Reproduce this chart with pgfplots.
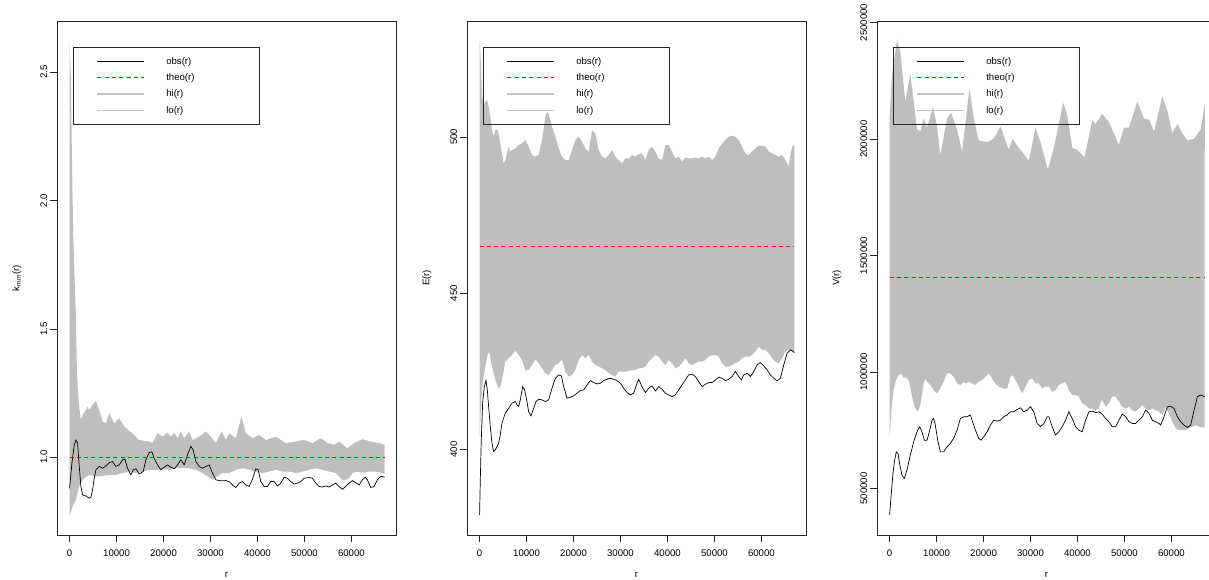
\documentclass[border=0pt]{standalone}
\usepackage{fontspec}
\setmainfont{Liberation Sans}
\usepackage{pgfplots}
\pgfplotsset{compat=1.18}
\usepgfplotslibrary{fillbetween}
\definecolor{envgrey}{RGB}{190,190,190}
\definecolor{legline}{RGB}{195,195,195}
\definecolor{rred}{RGB}{255,0,0}
\pgfplotsset{
  rpanel/.style={
    scale only axis, width=339pt, height=514pt,
    anchor=south west,
    xmin=-2680, xmax=69500,
    xtick={0,10000,20000,30000,40000,50000,60000},
    xticklabels={0,10000,20000,30000,40000,50000,60000},
    scaled ticks=false,
    tick align=outside, xtick pos=bottom, ytick pos=left,
    major tick length=7pt,
    tick style={black!85, line width=0.6pt},
    axis line style={black!85, line width=0.7pt},
    font=\fontsize{9.6}{11}\selectfont,
    /pgf/number format/assume math mode=true,
    yticklabel style={rotate=90, anchor=south, inner sep=0pt},
    xticklabel style={anchor=north, inner sep=0pt},
    yticklabel shift=2.5pt,
    xticklabel shift=8pt,
    every axis y label/.style={at={(axis description cs:-0.118,0.5)}, rotate=90, anchor=center},
    every axis x label/.style={at={(axis description cs:0.5,-0.0778)}, anchor=center},
    xlabel={r},
    legend style={at={(0,1)}, anchor=north west, xshift=16pt, yshift=-26pt,
      draw=black!85, line width=0.6pt, fill=none,
      inner xsep=0pt, inner ysep=6pt, row sep=0pt,
      nodes={inner sep=0pt, minimum height=16.3pt}},
    legend image code/.code={\path[draw=none, fill=none] (0pt,0pt) -- (93pt,0pt); \draw[##1] (24pt,0pt) -- (71pt,0pt);},
    legend cell align=left,
  },
  obsst/.style={color=black, draw=black, line width=0.7pt},
  theost/.style={color=rred, draw=rred, line width=0.9pt, dash pattern=on 4pt off 3.3pt},
  hist/.style={color=legline, draw=legline, line width=1.1pt},
  lost/.style={color=legline, draw=legline, line width=0.8pt},
}
\newcommand{\leg}[1]{\makebox[93pt][l]{#1}}
\begin{document}
\begin{tikzpicture}
% ---------------- Panel 1 ----------------
\begin{axis}[rpanel, at={(57pt,45pt)}, ymin=0.697, ymax=2.699,
  ytick={1.0,1.5,2.0,2.5}, yticklabels={1.0,1.5,2.0,2.5},
  ylabel={k\textsubscript{mm}(r)}]
\addplot[name path=hiA, draw=none, forget plot] coordinates {
(0,2.62) (280,2.47) (490,2.18) (770,1.87) (1060,1.70) (1340,1.56) (1550,1.34) (1770,1.26) (2040,1.196) (2412,1.145) (2766,1.165) (3476,1.184) (3831,1.197) (4185,1.184) (4894,1.204) (5603,1.219) (6313,1.184) (7022,1.139) (7731,1.132) (8441,1.171) (9505,1.132) (10569,1.152) (11632,1.119) (13406,1.093) (14824,1.067) (16952,1.061) (17662,1.055) (18726,1.093) (19790,1.080) (20853,1.096) (21563,1.080) (22272,1.096) (22981,1.074) (23691,1.100) (24400,1.074) (25464,1.100) (26173,1.067) (27592,1.080) (29010,1.100) (30074,1.080) (31138,1.055) (32344,1.100) (33266,1.067) (33975,1.093) (35394,1.074) (36600,1.158) (37522,1.093) (38941,1.074) (40359,1.087) (41778,1.067) (43906,1.080) (46034,1.055) (48162,1.061) (49935,1.067) (51708,1.055) (53481,1.074) (54900,1.055) (56318,1.048) (57382,1.061) (59156,1.035) (60575,1.055) (62347,1.070) (64121,1.061) (65894,1.055) (67100,1.048)};
\addplot[name path=loA, draw=none, forget plot] coordinates {
(0,0.769) (638,0.808) (1348,0.834) (2057,0.886) (2766,0.912) (3476,0.922) (4185,0.931) (5603,0.925) (7022,0.927) (8441,0.931) (9859,0.931) (11278,0.938) (12697,0.944) (14115,0.938) (15534,0.944) (16952,0.951) (18371,0.951) (19790,0.953) (21208,0.951) (22627,0.957) (24045,0.957) (25464,0.957) (26882,0.951) (28301,0.938) (29720,0.922) (30429,0.912) (31138,0.922) (32557,0.938) (33975,0.938) (35394,0.951) (36813,0.957) (38231,0.951) (39650,0.944) (41068,0.938) (42487,0.944) (43906,0.951) (45325,0.944) (46743,0.944) (48162,0.938) (49580,0.944) (50999,0.951) (52417,0.957) (53835,0.951) (55254,0.944) (56673,0.938) (58092,0.912) (58801,0.912) (59510,0.918) (60220,0.938) (60929,0.944) (62347,0.940) (63766,0.944) (65185,0.944) (67100,0.935)};
\addplot[envgrey, draw=none, forget plot] fill between[of=hiA and loA];
\addplot[obsst] coordinates {
(0,0.879) (497,0.977) (993,1.048) (1348,1.067) (1702,1.055) (2057,0.964) (2412,0.886) (2766,0.853) (3476,0.849) (4185,0.840) (4540,0.844) (4894,0.873) (5249,0.918) (5603,0.951) (6313,0.964) (7022,0.957) (7731,0.966) (8441,0.979) (9150,0.983) (9859,0.964) (10569,0.970) (11278,0.990) (11774,0.992) (12342,0.957) (13051,0.931) (13548,0.951) (14115,0.955) (14824,0.935) (15676,0.944) (16243,0.990) (16952,1.018) (17520,1.021) (18016,0.996) (18726,0.970) (19435,0.951) (20144,0.961) (20853,0.970) (21563,0.961) (22272,0.955) (22981,0.970) (23691,0.990) (24400,0.970) (25109,1.009) (25819,1.042) (26315,1.029) (26882,0.983) (27592,0.964) (28301,0.957) (29010,0.964) (29720,0.970) (30429,0.938) (31138,0.912) (31848,0.909) (32557,0.908) (33266,0.909) (33975,0.905) (34685,0.892) (35394,0.882) (36103,0.899) (36813,0.905) (37522,0.892) (38231,0.886) (38941,0.914) (39650,0.955) (40146,0.951) (40714,0.905) (41423,0.886) (42132,0.886) (42842,0.905) (43551,0.905) (44260,0.888) (44970,0.899) (45679,0.922) (46388,0.918) (47098,0.905) (47807,0.895) (48516,0.899) (49225,0.905) (49935,0.918) (50999,0.921) (51708,0.918) (52417,0.899) (53127,0.886) (53835,0.884) (54545,0.888) (55254,0.884) (55964,0.892) (56673,0.899) (57382,0.886) (58092,0.875) (58801,0.886) (59510,0.899) (60220,0.909) (60929,0.901) (61638,0.892) (62347,0.912) (62915,0.922) (63411,0.912) (64121,0.882) (64830,0.886) (65539,0.912) (66249,0.925) (67100,0.922)};
\addlegendentry{\leg{obs(r)}}
\addplot[theost] coordinates {(0,1) (67100,1)};
\addlegendentry{\leg{theo(r)}}
\addlegendimage{hist}
\addlegendentry{\leg{hi(r)}}
\addlegendimage{lost}
\addlegendentry{\leg{lo(r)}}
\end{axis}
% ---------------- Panel 2 ----------------
\begin{axis}[rpanel, at={(467pt,45pt)}, ymin=372.6, ymax=537.1,
  ytick={400,450,500}, yticklabels={400,450,500},
  ylabel={E(r)}]
\addplot[name path=hiB, draw=none, forget plot] coordinates {
(0,531.0) (291,523.5) (504,513.9) (859,509.7) (1214,511.3) (1569,511.8) (1924,509.7) (2279,506.5) (2634,502.2) (2989,500.1) (3344,502.2) (3699,502.5) (4054,501.1) (4764,494.7) (5119,491.5) (5474,492.6) (5829,494.7) (6184,496.9) (6539,495.3) (6894,495.8) (7604,496.3) (8314,497.4) (9024,497.9) (9734,499.0) (10444,496.9) (11154,494.2) (11864,493.7) (12574,494.2) (13284,499.0) (13994,506.5) (14349,508.1) (14704,507.5) (15414,503.3) (16124,500.1) (16834,496.3) (17544,493.7) (18254,492.6) (18964,492.6) (19674,495.8) (20384,499.0) (21094,500.1) (21804,498.5) (22514,496.3) (23224,495.3) (23934,502.2) (24644,501.1) (25354,495.8) (26064,493.7) (26774,493.1) (27484,494.2) (28194,495.8) (28904,493.7) (29614,492.6) (30324,491.5) (31034,493.1) (31744,493.1) (32454,494.2) (33164,493.7) (33874,494.5) (34584,494.7) (35294,492.6) (36004,495.8) (36714,496.9) (37424,495.3) (38134,493.1) (38844,492.6) (39554,497.4) (40264,497.4) (40974,495.3) (41684,493.1) (42394,493.7) (43104,492.1) (43814,493.4) (44524,493.1) (45234,493.1) (45944,493.4) (46654,493.1) (47364,493.7) (48074,493.1) (48784,493.7) (49494,492.6) (50204,493.7) (50914,496.3) (51624,497.9) (52334,499.0) (53044,500.1) (53754,500.3) (54464,500.1) (55174,499.0) (55884,496.9) (56594,494.7) (57304,494.2) (58014,495.3) (58724,496.3) (59434,497.2) (60144,497.1) (60854,496.9) (61564,495.3) (62274,494.7) (62984,494.2) (63694,493.7) (64404,494.2) (65114,492.6) (65824,490.5) (66179,494.2) (66534,496.9) (67031,497.4)};
\addplot[name path=loB, draw=none, forget plot] coordinates {
(0,404.1) (291,413.7) (646,421.2) (1214,426.5) (1782,430.8) (2066,431.0) (2634,426.5) (3344,422.2) (4054,419.6) (4409,420.1) (4764,422.2) (5474,428.1) (6184,429.2) (6894,430.2) (7604,431.6) (8314,430.2) (9024,428.6) (9734,425.4) (10444,425.4) (11154,427.0) (11864,428.8) (12574,427.6) (13284,426.0) (13994,424.4) (14704,423.8) (15414,425.4) (16124,427.0) (16834,427.6) (17544,428.8) (18254,424.9) (18964,423.3) (19674,423.8) (20384,425.4) (21094,428.6) (21804,430.2) (22514,429.2) (23224,430.2) (23934,428.1) (24644,427.0) (25354,426.5) (26064,426.0) (26774,425.4) (27484,424.4) (28194,423.8) (28904,423.3) (29614,424.9) (30324,424.9) (31034,424.9) (31744,425.1) (32454,425.4) (33164,425.4) (33874,426.0) (34584,426.0) (35294,426.5) (36004,428.1) (36714,429.2) (37424,430.2) (38134,429.7) (38844,428.1) (39554,427.0) (40264,428.6) (40974,427.6) (41684,426.0) (42394,426.5) (43104,427.6) (43814,429.2) (44524,427.6) (45234,427.0) (45944,427.6) (46654,428.1) (47364,428.1) (48074,428.6) (48784,429.7) (49494,430.2) (50204,430.2) (50914,429.7) (51624,427.6) (52334,426.5) (53044,426.5) (53754,427.0) (54464,427.6) (55174,428.1) (55884,429.2) (56594,429.7) (57304,429.7) (58014,430.2) (58724,431.3) (59434,432.9) (60144,431.8) (60854,431.8) (61564,430.8) (62274,429.2) (62984,428.1) (63694,427.6) (64404,429.2) (65114,431.3) (65824,431.8) (66534,431.3) (67031,430.8)};
\addplot[envgrey, draw=none, forget plot] fill between[of=hiB and loB];
\addplot[obsst] coordinates {
(0,379.05) (149,390.24) (362,403.04) (646,414.77) (1001,420.10) (1356,422.02) (1640,419.04) (1924,413.70) (2279,407.31) (2634,401.97) (2989,399.31) (3344,399.84) (4054,401.97) (4409,404.64) (4764,408.37) (5474,411.57) (6184,413.17) (6894,414.77) (7604,415.30) (7959,414.24) (8314,413.70) (8669,415.84) (9166,420.10) (9592,419.04) (10089,415.30) (10444,412.10) (10941,410.72) (11509,413.17) (12006,415.30) (12574,416.05) (13284,415.84) (13994,415.30) (14704,415.84) (15414,419.57) (16124,422.77) (16834,423.83) (17402,423.51) (17899,420.10) (18609,416.37) (19319,416.69) (20029,417.12) (20739,417.97) (21449,418.82) (22159,419.04) (22869,420.63) (23579,422.02) (24289,421.38) (24999,420.95) (25709,421.17) (26419,422.02) (27129,422.45) (27839,422.77) (28549,422.45) (29259,422.02) (29969,421.17) (30679,419.57) (31389,418.18) (32099,417.44) (32809,417.97) (33519,421.17) (33874,422.45) (34584,420.10) (35294,418.18) (36004,419.57) (36714,420.31) (37424,418.71) (38134,420.10) (38844,419.25) (39554,417.97) (40264,417.44) (40974,416.90) (41684,417.44) (42394,419.04) (43104,420.63) (43814,422.23) (44524,423.83) (45234,424.05) (45944,423.30) (46654,421.70) (47364,420.10) (48074,420.85) (48784,421.38) (49494,421.38) (50204,422.23) (50914,423.09) (51624,422.77) (52334,422.02) (53044,422.45) (53754,423.30) (54464,424.90) (55174,423.30) (55742,422.23) (56239,423.83) (56949,424.37) (57659,423.30) (58369,424.90) (59079,427.03) (59789,427.78) (60499,426.71) (61209,425.43) (61919,423.83) (62629,422.77) (63339,421.91) (64049,422.77) (64759,427.03) (65469,430.76) (66179,431.83) (66534,431.62) (67031,430.98)};
\addlegendentry{\leg{obs(r)}}
\addplot[theost] coordinates {(0,465.1) (67031,465.1)};
\addlegendentry{\leg{theo(r)}}
\addlegendimage{hist}
\addlegendentry{\leg{hi(r)}}
\addlegendimage{lost}
\addlegendentry{\leg{lo(r)}}
\end{axis}
% ---------------- Panel 3 ----------------
\begin{axis}[rpanel, at={(877pt,45pt)}, ymin=300000, ymax=2507000,
  ytick={500000,1000000,1500000,2000000,2500000},
  yticklabels={500000,1000000,1500000,2000000,2500000},
  ylabel={V(r)}]
\addplot[name path=hiC, draw=none, forget plot] coordinates {
(0,2089000) (505,2275000) (1571,2426000) (2281,2375000) (3347,2160000) (4413,2280000) (5835,2041000) (6545,2033000) (7256,2089000) (7967,2049000) (9246,2137000) (10099,2057000) (10810,1930000) (12231,2089000) (13084,2113000) (14363,2041000) (15429,1946000) (16993,2216000) (17917,2089000) (18983,1994000) (20759,1986000) (22181,2002000) (23602,2054000) (24668,1994000) (25379,1954000) (26232,2002000) (27156,1970000) (28222,1946000) (29643,1906000) (31064,2049000) (32130,1986000) (33694,1870000) (34973,1962000) (36963,2156000) (37816,2105000) (38882,1962000) (39948,1954000) (41512,1922000) (43146,2081000) (43857,2065000) (45278,2108000) (46700,2073000) (48832,1975000) (49898,2049000) (50964,2049000) (52741,2160000) (54162,2089000) (55228,2084000) (56294,2033000) (58071,2184000) (59137,2121000) (60203,2025000) (61269,2065000) (62335,2025000) (63401,1994000) (64823,2002000) (66244,2041000) (67100,2150000)};
\addplot[name path=loC, draw=none, forget plot] coordinates {
(0,722000) (505,865000) (860,922000) (1350,965000) (1919,987000) (2487,994000) (2992,972000) (3347,979000) (4058,965000) (4413,937000) (4769,894000) (5479,843000) (5977,829000) (6545,858000) (7256,951000) (7611,972000) (7967,958000) (8677,944000) (9388,922000) (10099,908000) (10810,929000) (11520,958000) (12231,994000) (12942,994000) (13652,979000) (14363,951000) (15074,944000) (15784,958000) (16140,951000) (16850,958000) (17561,951000) (18272,944000) (18983,958000) (19693,965000) (20404,979000) (21115,994000) (21825,972000) (22536,951000) (23247,937000) (24313,929000) (25024,929000) (25734,979000) (26232,987000) (26800,965000) (27511,937000) (28222,908000) (28933,937000) (29643,965000) (30354,972000) (31065,951000) (31775,951000) (32486,929000) (33197,937000) (33908,937000) (34618,915000) (35329,922000) (36040,944000) (36751,951000) (37461,958000) (38172,922000) (38883,901000) (39593,901000) (40304,894000) (41015,865000) (41726,858000) (42436,843000) (43147,843000) (43858,836000) (44568,843000) (44924,872000) (45279,879000) (45990,851000) (46701,865000) (47411,894000) (48122,894000) (48833,872000) (49543,851000) (50254,843000) (50965,851000) (51676,836000) (52386,829000) (53097,843000) (53808,858000) (54518,843000) (55229,836000) (55940,843000) (56651,836000) (57361,829000) (58072,815000) (58783,851000) (59494,822000) (60204,786000) (60915,758000) (61626,750000) (62337,750000) (63047,750000) (63758,758000) (64469,765000) (65180,772000) (65890,765000) (66601,762000) (67098,765000)};
\addplot[envgrey, draw=none, forget plot] fill between[of=hiC and loC];
\addplot[obsst] coordinates {
(0,385000) (362,478000) (718,564000) (1073,621000) (1421,657000) (1777,650000) (2132,607000) (2637,557000) (3134,543000) (3703,579000) (4413,643000) (5124,700000) (5835,743000) (6403,765000) (6900,743000) (7398,707000) (7967,707000) (8464,743000) (9032,793000) (9388,800000) (9743,772000) (10241,707000) (10810,657000) (11520,657000) (12231,679000) (12942,693000) (13652,715000) (14363,750000) (15074,800000) (15784,808000) (16495,808000) (17206,815000) (17561,793000) (18272,750000) (18983,715000) (19480,707000) (20049,722000) (20759,743000) (21470,772000) (22181,793000) (22891,789000) (23602,793000) (24313,808000) (25024,815000) (25734,829000) (26445,829000) (27156,839000) (27866,846000) (28577,829000) (29288,836000) (29999,851000) (30709,829000) (31420,779000) (32131,765000) (32841,779000) (33552,808000) (33908,808000) (34618,765000) (35329,729000) (36040,743000) (36751,765000) (37461,793000) (38172,829000) (38883,800000) (39593,765000) (40304,750000) (41015,743000) (41726,793000) (42436,829000) (43147,832000) (43858,825000) (44568,829000) (45279,819000) (45990,800000) (46701,786000) (47411,765000) (48122,765000) (48833,793000) (49543,819000) (50254,808000) (50965,786000) (51676,779000) (52386,779000) (53097,793000) (53808,808000) (54518,836000) (55229,822000) (55940,793000) (56651,786000) (57361,779000) (57717,772000) (58427,808000) (59138,851000) (59849,853000) (60560,843000) (61270,808000) (61981,786000) (62692,772000) (63403,762000) (64113,772000) (64824,836000) (65535,894000) (66246,901000) (67098,894000)};
\addlegendentry{\leg{obs(r)}}
\addplot[theost] coordinates {(0,1405500) (67098,1405500)};
\addlegendentry{\leg{theo(r)}}
\addlegendimage{hist}
\addlegendentry{\leg{hi(r)}}
\addlegendimage{lost}
\addlegendentry{\leg{lo(r)}}
\end{axis}
\pgfresetboundingbox
\useasboundingbox (0,0) rectangle (1209pt,580pt);
\end{tikzpicture}
\end{document}
